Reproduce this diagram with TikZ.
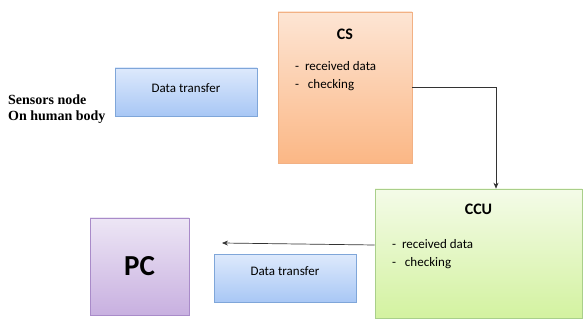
\documentclass[tikz,border=0pt]{standalone}
\usepackage{fontspec}
\setmainfont{Carlito}
\newfontfamily\sensorfont{Liberation Serif}
\usetikzlibrary{positioning,shadows,arrows.meta}

\definecolor{dtedge}{HTML}{7FA6D9}
\definecolor{csedge}{HTML}{F2B184}
\definecolor{ccuedge}{HTML}{A9CF8A}
\definecolor{pcedge}{HTML}{A98BC9}

\begin{document}
\begin{tikzpicture}[x=1pt, y=-1pt, node distance=10pt]
  % Define styles
  \tikzstyle{box} = [rectangle, inner sep=0pt, line width=0.6pt,
                     drop shadow={opacity=0.25, shadow xshift=1pt, shadow yshift=-1pt}]
  \tikzstyle{dtbox} = [box, minimum width=142pt, minimum height=48pt, draw=dtedge,
                       top color={rgb,255:red,221;green,233;blue,252}, bottom color={rgb,255:red,168;green,199;blue,245}]
  \tikzstyle{csbox} = [box, minimum width=134pt, minimum height=151pt, draw=csedge,
                       top color={rgb,255:red,253;green,229;blue,212}, bottom color={rgb,255:red,251;green,183;blue,133}]
  \tikzstyle{ccubox} = [box, minimum width=207pt, minimum height=129pt, draw=ccuedge,
                        top color={rgb,255:red,244;green,251;blue,232}, bottom color={rgb,255:red,211;green,242;blue,160}]
  \tikzstyle{pcbox} = [box, minimum width=99pt, minimum height=97pt, draw=pcedge,
                       top color={rgb,255:red,237;green,230;blue,245}, bottom color={rgb,255:red,200;green,176;blue,224}]
  \tikzstyle{txt} = [inner sep=0pt, font=\fontsize{13}{15}\selectfont]
  \tikzstyle{title} = [inner sep=0pt, font=\bfseries\fontsize{16}{18}\selectfont]
  \tikzstyle{items} = [txt, align=left, font=\fontsize{13}{18.5}\selectfont]
  \tikzstyle{arrow} = [line width=0.7pt, draw=black!80, -{Stealth[length=6pt, width=5pt]}]

  \useasboundingbox (0,0) rectangle (584,320);

  % Nodes
  \node (sensors) [anchor=west, align=left, inner sep=0pt,
                   font=\sensorfont\bfseries\fontsize{14}{16}\selectfont] at (8,109)
        {Sensors node\\On human body};
  \node (dt1) [dtbox] at (186,92) {};
  \node (dt1txt) [txt, below=16pt of dt1.north] {Data transfer};

  \node (cs) [csbox] at (345,87.5) {};
  \node (cstitle) [title, below=17pt of cs.north] {CS};
  \node (csitems) [items, anchor=north west] at (295,61) {-\ \ received data\\-\ \ \ checking};

  \node (ccu) [ccubox] at (478.5,253.5) {};
  \node (ccutitle) [title, below=15pt of ccu.north] {CCU};
  \node (ccuitems) [items, anchor=north west] at (392,239) {-\ \ received data\\-\ \ \ checking};

  \node (pc) [pcbox] at (139.5,266.5) {};
  \node (pctxt) [inner sep=0pt, font=\bfseries\fontsize{29}{30}\selectfont] at (pc) {PC};

  \node (dt2) [dtbox] at (285,278.5) {};
  \node (dt2txt) [txt, below=12pt of dt2.north] {Data transfer};

  \coordinate (pcin) at (222,243);

  % Arrows
  \draw [arrow] (cs.east) -| ([xshift=17.5pt]ccu.north);
  \draw [arrow] ([yshift=8.5pt]ccu.west) -- (pcin);
\end{tikzpicture}
\end{document}
